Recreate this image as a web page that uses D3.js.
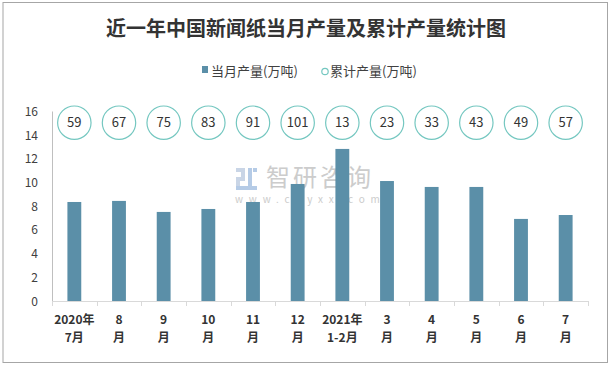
<!DOCTYPE html>
<html><head><meta charset="utf-8">
<script src="https://cdn.jsdelivr.net/npm/d3@7/dist/d3.min.js"></script>
<style>
body{margin:0;background:#fff;}
svg{display:block;font-family:"Noto Sans CJK SC","Noto Sans",sans-serif;}
</style></head>
<body><svg id="c" width="611" height="369"></svg>
<script>
const labelTop = ["2020年","8","9","10","11","12","2021年","3","4","5","6","7"];
const labelBottom = ["7月","月","月","月","月","月","1-2月","月","月","月","月","月"];
const monthly = [8.36,8.45,7.52,7.77,8.36,9.88,12.84,10.13,9.63,9.63,6.93,7.26];
const cumulative = [59,67,75,83,91,101,13,23,33,43,49,57];
const yTicks = [0,2,4,6,8,10,12,14,16];

(function(){
const svg = d3.select("#c");
const barColor = "#5b8fa8", circColor = "#74c7c0";
const pL = 52, pR = 588, pT = 111.5, pB = 301;

svg.append("rect").attr("x",3).attr("y",2.5).attr("width",604.5).attr("height",360)
  .attr("fill","#fff").attr("stroke","#a6a6a6").attr("stroke-width",1);

svg.append("text").attr("x",306).attr("y",36).attr("text-anchor","middle")
  .attr("font-size",20).attr("font-weight","bold").attr("fill","#333")
  .text("近一年中国新闻纸当月产量及累计产量统计图");

// legend
const lg = svg.append("g");
lg.append("rect").attr("x",202).attr("y",66).attr("width",6).attr("height",7).attr("fill",barColor);
lg.append("text").attr("x",211).attr("y",76).attr("font-size",13).attr("fill","#404040").text("当月产量(万吨)");
lg.append("circle").attr("cx",325).attr("cy",71.5).attr("r",3.2).attr("fill","none").attr("stroke",circColor).attr("stroke-width",1.2);
lg.append("text").attr("x",330).attr("y",76).attr("font-size",13).attr("fill","#404040").text("累计产量(万吨)");

const x = d3.scaleBand().domain(d3.range(labelTop.length)).range([pL,pR]).padding(0);
const y = d3.scaleLinear().domain([0,16]).range([pB,pT]);

// watermark
const wm = svg.append("g");
wm.append("rect").attr("x",236).attr("y",168).attr("width",9).attr("height",4).attr("fill","#c9d5e6");
wm.append("rect").attr("x",241).attr("y",168).attr("width",4).attr("height",12).attr("fill","#c9d5e6");
wm.append("rect").attr("x",236).attr("y",177).attr("width",9).attr("height",4).attr("fill","#c9d5e6");
wm.append("rect").attr("x",236).attr("y",177).attr("width",4).attr("height",12).attr("fill","#c9d5e6");
wm.append("rect").attr("x",236).attr("y",186).attr("width",21).attr("height",4).attr("fill","#b5cbe6");
wm.append("rect").attr("x",248).attr("y",168).attr("width",4).attr("height",22).attr("fill","#b5cbe6");
wm.append("rect").attr("x",253).attr("y",168).attr("width",4).attr("height",4).attr("fill","#b5cbe6");
wm.append("text").attr("x",266).attr("y",186).attr("font-size",24).attr("fill","#cccccc").attr("letter-spacing",3).text("智研咨询");
wm.append("text").attr("x",235).attr("y",203).attr("font-size",10).attr("fill","#cccccc").attr("letter-spacing",5.8).text("www.chyxx.com");

// axes
svg.append("line").attr("x1",pL+0.5).attr("x2",pL+0.5).attr("y1",pT).attr("y2",pB).attr("stroke","#bfbfbf");
svg.append("line").attr("x1",pL).attr("x2",pR).attr("y1",pB+0.5).attr("y2",pB+0.5).attr("stroke","#d9d9d9");
const bounds = d3.range(labelTop.length+1).map(i => i<labelTop.length ? x(i) : pR);
svg.selectAll(".xt").data(bounds).join("line").attr("x1",d=>Math.round(d)+0.5).attr("x2",d=>Math.round(d)+0.5)
  .attr("y1",pB).attr("y2",pB+5).attr("stroke","#d9d9d9");

svg.selectAll(".yl").data(yTicks).join("text").attr("x",38).attr("y",d=>y(d)+4.5)
  .attr("text-anchor","end").attr("font-size",12).attr("fill","#404040").text(d=>d);

// bars
const bw = x.bandwidth()*0.31;
svg.selectAll(".bar").data(monthly).join("rect")
  .attr("x",(d,i)=>x(i)+x.bandwidth()/2-bw/2).attr("width",bw)
  .attr("y",d=>y(d)).attr("height",d=>pB-y(d)).attr("fill",barColor);

// circles
const cg = svg.selectAll(".cum").data(cumulative).join("g")
  .attr("transform",(d,i)=>`translate(${x(i)+x.bandwidth()/2},122.7)`);
cg.append("circle").attr("r",16.7).attr("fill","#fff").attr("stroke",circColor).attr("stroke-width",1.2);
cg.append("text").attr("y",4.5).attr("text-anchor","middle").attr("font-size",13).attr("fill","#333").text(d=>d);

// x labels
const xl = svg.selectAll(".xl").data(labelTop).join("g")
  .attr("transform",(d,i)=>`translate(${x(i)+x.bandwidth()/2},0)`);
xl.append("text").attr("y",323.5).attr("text-anchor","middle").attr("font-size",12).attr("font-weight","bold").attr("fill","#333").text(d=>d);
xl.append("text").attr("y",341.5).attr("text-anchor","middle").attr("font-size",12).attr("font-weight","bold").attr("fill","#333").text((d,i)=>labelBottom[i]);
})();
</script></body></html>
